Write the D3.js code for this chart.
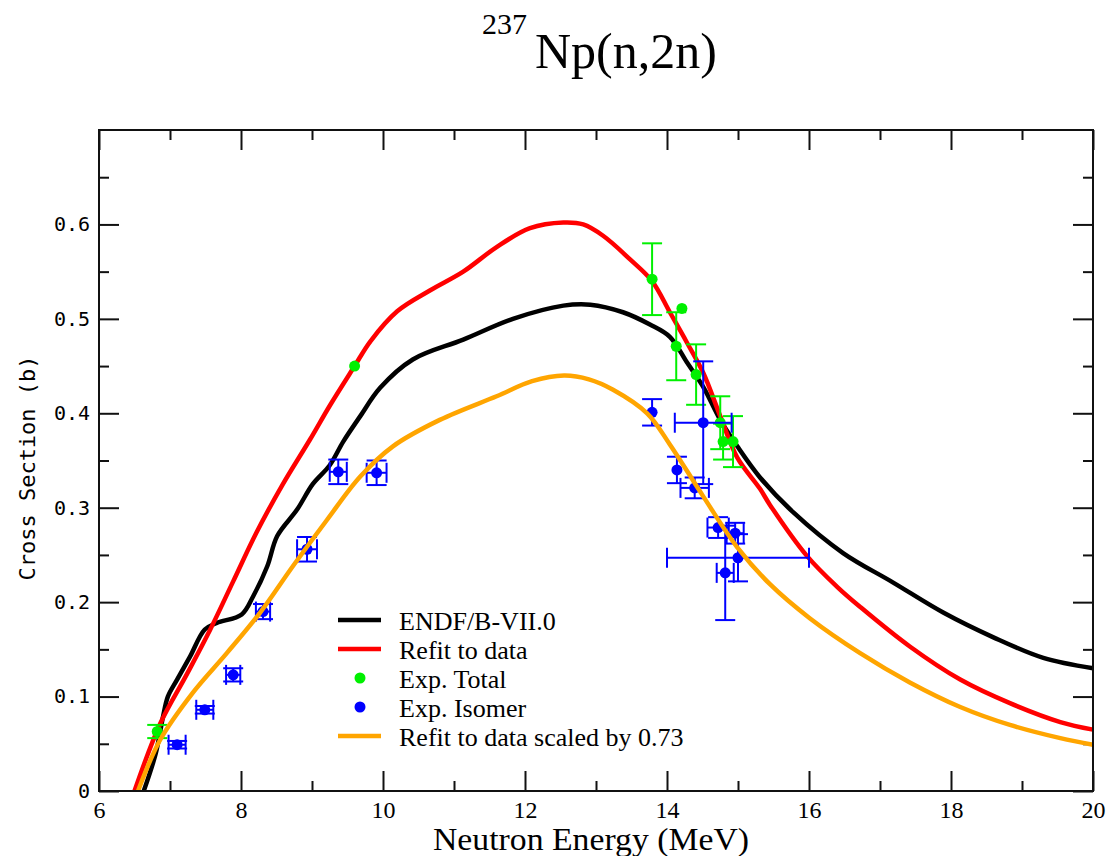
<!DOCTYPE html>
<html><head><meta charset="utf-8">
<script src="https://cdn.jsdelivr.net/npm/d3@7"></script>
<style>body{margin:0;background:#fff;} svg{display:block;}</style>
</head><body>
<svg id="c" width="1111" height="856"></svg>
<script>
// ---------- data ----------
const endfE  = [6.63,6.8,6.9,6.97,7.1,7.28,7.49,7.66,8.01,8.17,8.37,8.51,8.79,9.01,9.25,9.44,9.68,9.96,10.42,11.13,11.83,12.54,12.92,13.38,13.76,14.04,14.28,14.51,14.75,14.99,15.31,15.78,16.48,17.18,17.89,18.59,19.3,20];
const endfXS = [0,0.04,0.078,0.10,0.118,0.142,0.171,0.178,0.187,0.206,0.238,0.27,0.298,0.325,0.345,0.37,0.397,0.427,0.457,0.478,0.5,0.514,0.515,0.507,0.494,0.481,0.454,0.428,0.393,0.365,0.332,0.295,0.252,0.221,0.189,0.163,0.141,0.130];

const refitE  = [6.5,6.86,7.24,7.56,7.89,8.22,8.59,8.97,9.25,9.6,9.82,10.2,10.66,11.13,11.6,12.07,12.54,12.82,13.1,13.48,13.79,14.04,14.28,14.51,14.75,14.99,15.31,15.45,15.97,16.4,16.72,17.42,18.13,18.83,19.54,20];
const refitXS = [0,0.071,0.124,0.17,0.222,0.274,0.325,0.372,0.408,0.45,0.476,0.508,0.530,0.55,0.576,0.596,0.602,0.60,0.588,0.563,0.54,0.507,0.475,0.443,0.397,0.353,0.32,0.303,0.249,0.216,0.195,0.153,0.118,0.093,0.073,0.065];

const scaledE  = [6.55,6.86,7.32,7.8,8.27,8.73,9.21,9.68,10.14,10.8,11.6,12.1,12.55,12.9,13.24,13.72,14.04,14.51,14.99,15.45,16.01,16.72,17.42,18.13,18.83,19.54,20];
const scaledXS = [0,0.054,0.104,0.146,0.189,0.238,0.287,0.333,0.365,0.393,0.418,0.434,0.44,0.436,0.425,0.40,0.367,0.312,0.258,0.219,0.183,0.146,0.115,0.089,0.070,0.056,0.049];

const totalE   = [6.82,9.6,13.79,14.21,14.13,14.41,14.75,14.79,14.93];
const totalXS  = [0.063,0.45,0.542,0.511,0.471,0.441,0.39,0.37,0.37];
const totalDE  = [0,0,0,0,0,0,0,0,0];
const totalDXS = [0.007,0,0.038,0,0.036,0.032,0.028,0.019,0.027];

const isoE   = [7.1,7.49,7.89,8.31,8.93,9.37,9.91,13.79,14.51,14.14,14.39,14.72,14.96,15.0,14.82];
const isoXS  = [0.049,0.086,0.123,0.19,0.256,0.338,0.337,0.401,0.39,0.34,0.321,0.279,0.273,0.247,0.231];
const isoDE  = [0.12,0.12,0.1,0.1,0.14,0.12,0.14,0,0.4,0,0.2,0.15,0.12,1.0,0.12];
const isoDXS = [0.004,0.004,0.007,0.008,0.013,0.013,0.013,0.014,0.065,0.014,0.011,0.011,0.011,0.025,0.05];

const xMajor = [6,8,10,12,14,16,18,20];
const xTickLabels = ["6","8","10","12","14","16","18","20"];
const xMinor = [7,9,11,13,15,17,19];
const yMajor = [0,0.1,0.2,0.3,0.4,0.5,0.6];
const yTickLabels = ["0","0.1","0.2","0.3","0.4","0.5","0.6"];
const yMinor = [0.05,0.15,0.25,0.35,0.45,0.55,0.65];

const legendLabels = ["ENDF/B-VII.0","Refit to data","Exp. Total","Exp. Isomer","Refit to data scaled by 0.73"];

// ---------- layout ----------
const L = 99, R = 1093, T = 130, B = 791;
const svg = d3.select("#c");
const x = d3.scaleLinear().domain([6,20]).range([L,R]);
const y = d3.scaleLinear().domain([0,0.7]).range([B,T]);

const serif = "'Liberation Serif','Times New Roman',serif";
const mono = "'DejaVu Sans Mono','Liberation Mono',monospace";

// title
const title = svg.append("text").attr("x",482).attr("y",68)
  .style("font-family",serif).style("fill","#000");
title.append("tspan").attr("font-size",30).attr("dy",-34).text("237");
title.append("tspan").attr("font-size",50).attr("dy",34).attr("x",535).text("Np(n,2n)");

// axes
function styleAxis(g){
  g.select(".domain").remove();
  g.selectAll(".tick line").attr("stroke","#111").attr("stroke-width",2);
}
svg.append("g").attr("transform",`translate(0,${B})`)
  .call(d3.axisBottom(x).tickValues(xMajor).tickSize(-20).tickPadding(10).tickFormat((d,i)=>xTickLabels[i]))
  .call(styleAxis)
  .call(g=>g.selectAll("text").style("font-family",serif).style("font-size","24px").attr("fill","#000"));
svg.append("g").attr("transform",`translate(0,${B})`)
  .call(d3.axisBottom(x).tickValues(xMinor).tickSize(-10).tickFormat(""))
  .call(styleAxis);
svg.append("g").attr("transform",`translate(0,${T})`)
  .call(d3.axisTop(x).tickValues(xMajor).tickSize(-20).tickFormat(""))
  .call(styleAxis);
svg.append("g").attr("transform",`translate(0,${T})`)
  .call(d3.axisTop(x).tickValues(xMinor).tickSize(-10).tickFormat(""))
  .call(styleAxis);
svg.append("g").attr("transform",`translate(${L},0)`)
  .call(d3.axisLeft(y).tickValues(yMajor).tickSize(-20).tickPadding(9).tickFormat((d,i)=>yTickLabels[i]))
  .call(styleAxis)
  .call(g=>g.selectAll("text").style("font-family",mono).style("font-size","20px").attr("fill","#000"));
svg.append("g").attr("transform",`translate(${L},0)`)
  .call(d3.axisLeft(y).tickValues(yMinor).tickSize(-10).tickFormat(""))
  .call(styleAxis);
svg.append("g").attr("transform",`translate(${R},0)`)
  .call(d3.axisRight(y).tickValues(yMajor).tickSize(-20).tickFormat(""))
  .call(styleAxis);
svg.append("g").attr("transform",`translate(${R},0)`)
  .call(d3.axisRight(y).tickValues(yMinor).tickSize(-10).tickFormat(""))
  .call(styleAxis);

// axis labels
svg.append("text").attr("x",(432+750)/2).attr("y",850).attr("text-anchor","middle")
  .attr("textLength",316).attr("lengthAdjust","spacingAndGlyphs")
  .style("font-family",serif).style("font-size","32px").text("Neutron Energy (MeV)");
svg.append("text").attr("transform",`translate(35,468) rotate(-90)`).attr("text-anchor","middle")
  .style("font-family",mono).style("font-size","22px").text("Cross Section (b)");

// curves
const line = d3.line().x(d=>x(d[0])).y(d=>y(d[1])).curve(d3.curveCatmullRom.alpha(0.5));
function drawCurve(E,XS,color){
  svg.append("path").datum(E.map((e,i)=>[e,XS[i]]))
    .attr("d",line).attr("fill","none").attr("stroke",color)
    .attr("stroke-width",4.5).attr("stroke-linejoin","round");
}
function drawPoints(E,XS,DE,DXS,color){
  const g = svg.append("g").attr("stroke",color).attr("stroke-width",2).attr("fill",color);
  const cap = 10;
  E.forEach((e,i)=>{
    const cx = x(e), cy = y(XS[i]);
    if (DXS[i]>0){
      const y1 = y(XS[i]+DXS[i]), y2 = y(XS[i]-DXS[i]);
      g.append("line").attr("x1",cx).attr("x2",cx).attr("y1",y1).attr("y2",y2);
      g.append("line").attr("x1",cx-cap).attr("x2",cx+cap).attr("y1",y1).attr("y2",y1);
      g.append("line").attr("x1",cx-cap).attr("x2",cx+cap).attr("y1",y2).attr("y2",y2);
    }
    if (DE[i]>0){
      const x1 = x(e-DE[i]), x2 = x(e+DE[i]);
      g.append("line").attr("x1",x1).attr("x2",x2).attr("y1",cy).attr("y2",cy);
      g.append("line").attr("x1",x1).attr("x2",x1).attr("y1",cy-cap).attr("y2",cy+cap);
      g.append("line").attr("x1",x2).attr("x2",x2).attr("y1",cy-cap).attr("y2",cy+cap);
    }
    g.append("circle").attr("cx",cx).attr("cy",cy).attr("r",5.5).attr("stroke","none");
  });
}
drawCurve(endfE,endfXS,"#000000");
drawCurve(refitE,refitXS,"#ff0000");
drawPoints(totalE,totalXS,totalDE,totalDXS,"#00f000");
drawPoints(isoE,isoXS,isoDE,isoDXS,"#0000ff");
drawCurve(scaledE,scaledXS,"#ffa500");

// frame
svg.append("rect").attr("x",L).attr("y",T).attr("width",R-L).attr("height",B-T)
  .attr("fill","none").attr("stroke","#111").attr("stroke-width",2);

// legend
const legTypes = [["line","#000000"],["line","#ff0000"],["dot","#00f000"],["dot","#0000ff"],["line","#ffa500"]];
const legY0 = 620, legDy = 29;
legendLabels.forEach((lab,i)=>{
  const yy = legY0 + i*legDy;
  const [t,c] = legTypes[i];
  if (t==="line") svg.append("line").attr("x1",338).attr("x2",381).attr("y1",yy).attr("y2",yy).attr("stroke",c).attr("stroke-width",4.5);
  else svg.append("circle").attr("cx",360).attr("cy",yy).attr("r",5.5).attr("fill",c);
  svg.append("text").attr("x",399).attr("y",yy+10).style("font-family",serif).style("font-size","26px").text(lab);
});
</script>
</body></html>
